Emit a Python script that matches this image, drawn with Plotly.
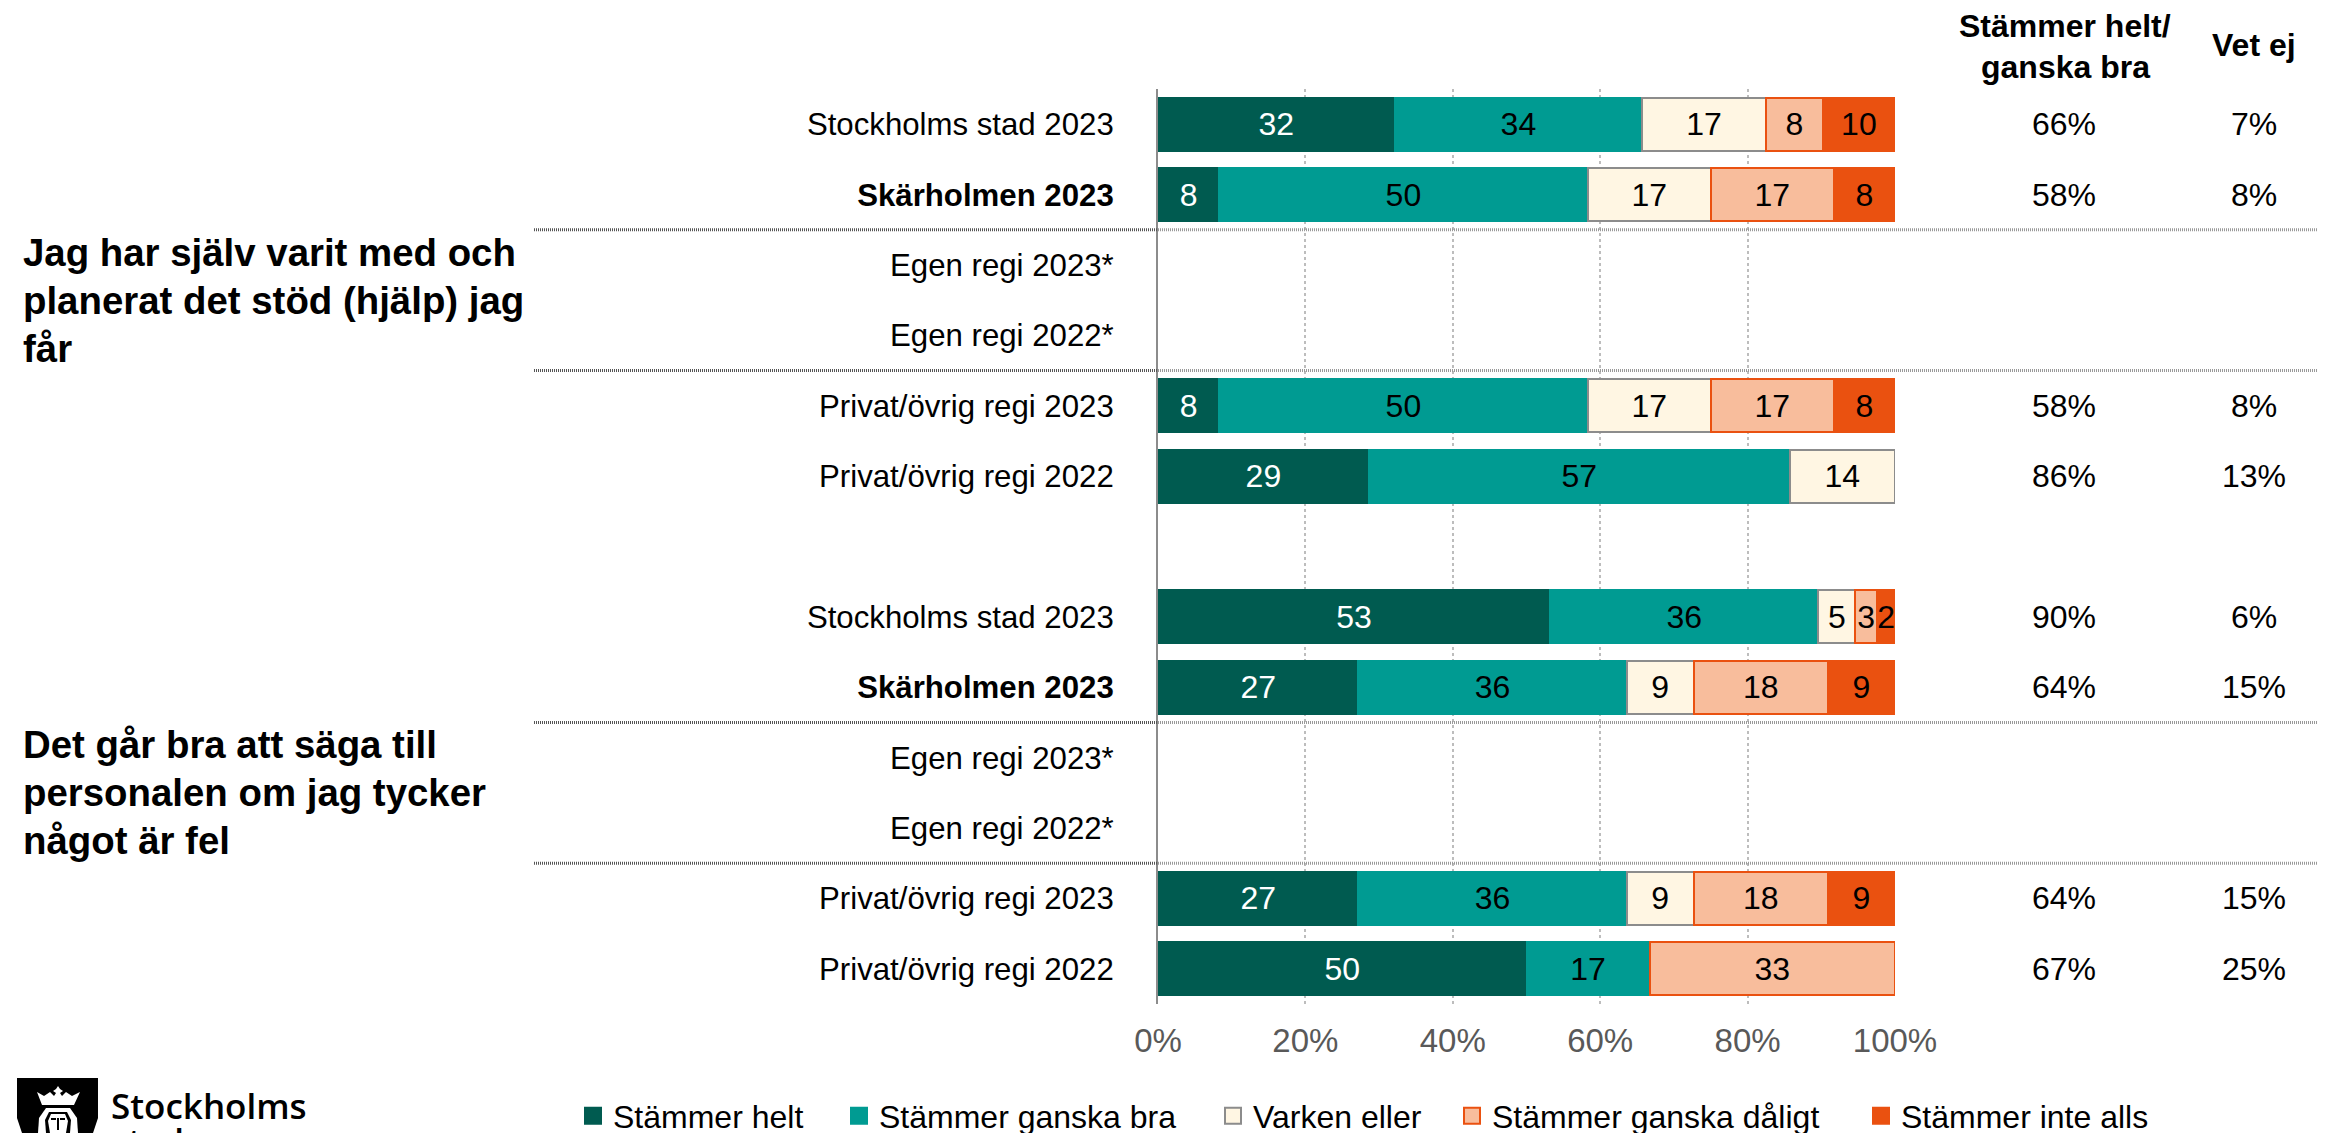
import plotly.graph_objects as go

W, H = 2326, 1133
AX_L, AX_R, AX_T, AX_B = 1158, 1895, 89, 1004
B = 44.5  # room that the bottom legends reserve under the plotting area

rows = ["Stockholms stad 2023", "<b>Skärholmen 2023</b>", "Egen regi 2023*", "Egen regi 2022*",
        "Privat/övrig regi 2023", "Privat/övrig regi 2022", "",
        "Stockholms stad 2023", "<b>Skärholmen 2023</b>", "Egen regi 2023*", "Egen regi 2022*",
        "Privat/övrig regi 2023", "Privat/övrig regi 2022"]

helt  = [32.1, 8.3, None, None, 8.3, 28.6, None, 53.2, 27.2, None, None, 27.2, 50.0]
bra   = [33.6, 50.0, None, None, 50.0, 57.1, None, 36.4, 36.4, None, None, 36.4, 16.7]
varken= [16.8, 16.7, None, None, 16.7, 14.3, None, 5.0, 9.1, None, None, 9.1, None]
daligt= [7.7, 16.7, None, None, 16.7, None, None, 3.0, 18.2, None, None, 18.2, 33.3]
inte  = [9.8, 8.3, None, None, 8.3, None, None, 2.4, 9.1, None, None, 9.1, None]

helt_bra = ["66%", "58%", "", "", "58%", "86%", "", "90%", "64%", "", "", "64%", "67%"]
vet_ej   = ["7%", "8%", "", "", "8%", "13%", "", "6%", "15%", "", "", "15%", "25%"]

q1_lines = ["Jag har själv varit med och", "planerat det stöd (hjälp) jag", "får"]
q2_lines = ["Det går bra att säga till", "personalen om jag tycker", "något är fel"]

series = [
    ("Stämmer helt", helt, "#005B50", "#005B50", "white", 584),
    ("Stämmer ganska bra", bra, "#009B92", "#009B92", "black", 850),
    ("Varken eller", varken, "#FFF6E3", "#8C8C8C", "black", 1224),
    ("Stämmer ganska dåligt", daligt, "#F8BD9C", "#EA5110", "black", 1463),
    ("Stämmer inte alls", inte, "#EA5110", "#EA5110", "black", 1872),
]

FONT = "Liberation Sans"
PH = H - B
def px(xpx):
    return xpx / W
def py(ypx):
    return 1 - ypx / PH

ys = list(range(len(rows)))
fig = go.Figure()
layout_legends = {}
for i, (name, vals, fill, edge, tcol, lx) in enumerate(series):
    key = "legend" if i == 0 else f"legend{i+1}"
    fig.add_trace(go.Bar(
        name=name, y=ys, x=vals, orientation="h", showlegend=False, legendgroup=name,
        marker=dict(color=fill, line=dict(color=edge, width=2)),
        texttemplate="%{x:.0f}", textposition="inside", insidetextanchor="middle",
        textangle=0, constraintext="none", cliponaxis=False,
        textfont=dict(color=tcol, size=32, family=FONT),
    ))
    fig.add_trace(go.Scatter(
        name=name, x=[None], y=[None], mode="markers", legend=key, legendgroup=name,
        marker=dict(symbol="square", size=16, color=fill, line=dict(color=edge, width=2)),
    ))
    layout_legends[key] = dict(
        orientation="h", xref="container", yref="container",
        x=(lx - 11) / W, y=1 - 1116 / H, xanchor="left", yanchor="middle",
        bgcolor="rgba(0,0,0,0)", font=dict(size=32, family=FONT, color="black"),
        itemsizing="trace", itemclick=False, itemdoubleclick=False,
    )

annotations = []
def ann(text, xpx, y, yref="y", size=32, bold=False):
    annotations.append(dict(
        text=f"<b>{text}</b>" if bold else text, x=px(xpx), xref="paper", y=y, yref=yref,
        showarrow=False, xanchor="center", yanchor="middle",
        font=dict(size=size, family=FONT, color="black")))

for y, a, b in zip(ys, helt_bra, vet_ej):
    if a:
        ann(a, 2064, y)
    if b:
        ann(b, 2254, y)

ann("Stämmer helt/", 2065, py(26), "paper", 32, True)
ann("ganska bra", 2065, py(67), "paper", 32, True)
ann("Vet ej", 2254, py(45), "paper", 32, True)

for lines, center in ((q1_lines, 2.5), (q2_lines, 9.5)):
    for k, line in enumerate(lines):
        annotations.append(dict(
            text=f"<b>{line}</b>", x=px(21), xref="paper", y=center, yref="y",
            yshift=-(k - 1) * 48, showarrow=False, xanchor="left", yanchor="middle",
            font=dict(size=38.4, family=FONT, color="black")))

# logo wordmark
for txt, ypx in (("Stockholms", 1105), ("stad", 1140)):
    annotations.append(dict(
        text=txt, x=px(109), xref="paper", y=py(ypx), yref="paper", showarrow=False,
        xanchor="left", yanchor="middle",
        font=dict(size=35, family="Open Sans", color="black", weight=600)))

shapes = []
for d in (1.5, 3.5, 8.5, 10.5):
    shapes.append(dict(type="line", xref="paper", yref="y", x0=px(534), x1=px(AX_L), y0=d, y1=d,
                       line=dict(color="#555555", width=3, dash="1px 1px"), layer="above"))
    shapes.append(dict(type="line", xref="paper", yref="y", x0=px(AX_L), x1=px(2318), y0=d, y1=d,
                       line=dict(color="#999999", width=3, dash="1px 1px"), layer="above"))

def px_path(points):
    return "M" + " L".join(f"{px(x):.5f},{py(y):.5f}" for x, y in points) + " Z"

def logo(points, color):
    shapes.append(dict(type="path", xref="paper", yref="paper", fillcolor=color, line_width=0,
                       path=px_path(points)))

logo([(17, 1078), (98, 1078), (98, 1118), (93, 1133), (22, 1133), (17, 1118)], "black")
logo([(37, 1092), (44, 1096), (50, 1092), (54, 1096), (56, 1093), (53, 1091), (56, 1089), (58, 1086), (60, 1089),
      (63, 1091), (60, 1093), (62, 1096), (66, 1092), (72, 1096), (80, 1092), (74, 1105), (42, 1105)], "white")
logo([(46, 1108), (70, 1108), (77, 1118), (78, 1133), (38, 1133), (39, 1118)], "white")
logo([(49, 1112), (67, 1112), (71, 1120), (70, 1133), (46, 1133), (45, 1120)], "black")
logo([(51, 1114), (65, 1114), (68, 1121), (66, 1133), (50, 1133), (48, 1121)], "white")
logo([(51, 1118), (56, 1118), (56, 1120), (51, 1120)], "black")
logo([(60, 1118), (65, 1118), (65, 1120), (60, 1120)], "black")
logo([(57, 1118), (59, 1118), (59, 1130), (57, 1130)], "black")

fig.update_layout(
    width=W, height=H, margin=dict(l=0, r=0, t=0, b=0), autosize=False,
    paper_bgcolor="white", plot_bgcolor="white", barmode="stack", bargap=0.245,
    font=dict(family=FONT, size=32, color="black"),
    xaxis=dict(domain=[px(AX_L), px(AX_R)], range=[0, 100], tickvals=[0, 20, 40, 60, 80, 100], automargin=False,
               ticktext=["0%", "20%", "40%", "60%", "80%", "100%"], showline=False, zeroline=False,
               tickfont=dict(size=33, color="#595959", family=FONT), ticks="", ticklabelstandoff=14,
               showgrid=True, gridcolor="#BDBDBD", griddash="3px 3px", gridwidth=2, layer="below traces"),
    yaxis=dict(domain=[py(AX_B), py(AX_T)], range=[12.5, -0.5], tickmode="array", automargin=False,
               tickvals=ys, ticktext=rows, ticks="", showgrid=False, zeroline=False,
               showline=True, linecolor="#8C8C8C", linewidth=2, anchor="x",
               ticklabelstandoff=36, tickfont=dict(size=31.2, family=FONT, color="black")),
    annotations=annotations, shapes=shapes, showlegend=True, hovermode=False,
    **layout_legends,
)

fig.write_html("out.html", config={"displayModeBar": False},
               post_script="document.body.style.margin='0';document.body.style.overflow='hidden';")
